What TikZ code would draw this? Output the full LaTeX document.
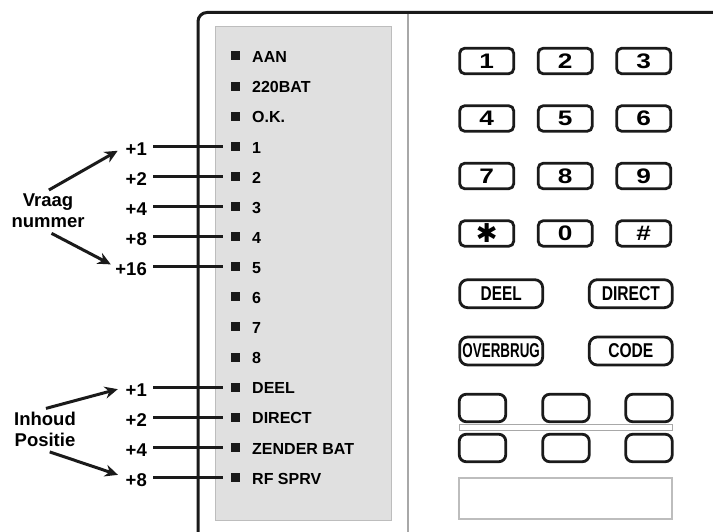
\documentclass[tikz,border=0pt]{standalone}
\usepackage{fontspec}
\setmainfont{Liberation Sans}
\newfontfamily\symfont{DejaVu Sans}
\usepackage{graphicx}
\usetikzlibrary{arrows.meta,positioning}
\definecolor{ink}{HTML}{1A1A1A}
\definecolor{panel}{HTML}{E0E0E0}
\definecolor{rim}{HTML}{BDBDBD}
\definecolor{gr}{HTML}{A8A8A8}
\newcommand{\keynum}[1]{\scalebox{1.25}[1]{\fontsize{21}{21}\selectfont\bfseries #1}}
\newcommand{\keytxt}[2]{\scalebox{#1}[1]{\fontsize{20}{20}\selectfont\bfseries #2}}

\begin{document}
\begin{tikzpicture}[x=1pt,y=-1pt,
  led/.style={fill=ink,inner sep=0pt,minimum size=9pt},
  ledtxt/.style={anchor=west,inner sep=0pt,font=\fontsize{16}{18}\selectfont\bfseries,
    text height=13.5pt,text depth=0pt},
  plus/.style={anchor=east,inner sep=0pt,font=\fontsize{18.5}{20}\selectfont\bfseries,
    text height=18.2pt,text depth=0pt},
  note/.style={align=center,font=\fontsize{18.5}{21}\selectfont\bfseries},
  wire/.style={ink,line width=2.8pt,shorten <=6pt,shorten >=8pt},
  ptr/.style={ink,line width=3pt,-{Stealth[length=13pt,width=12pt]}},
  key/.style={draw=ink,line width=2.8pt,rounded corners=5pt,minimum width=54pt,
    minimum height=25.5pt,inner sep=0pt},
  fkey/.style={key,rounded corners=8pt,minimum width=83pt,minimum height=28pt},
  bkey/.style={key,rounded corners=7pt,minimum width=46.5pt,minimum height=27.5pt}]
  \useasboundingbox (0,0) rectangle (713,532);
  % housing and led panel
  \draw[ink,line width=3pt,rounded corners=9pt] (198,532) -- (198,12.5) -- (713,12.5);
  \draw[rim,fill=panel,line width=0.8pt] (215.5,26.5) rectangle (391.5,520.5);
  \draw[gr,line width=1.2pt] (408,14) -- (408,532);
  \foreach \n/\lbl in {0/AAN,1/220BAT,2/O.K.,3/1,4/2,5/3,6/4,7/5,8/6,9/7,10/8,
      11/DEEL,12/DIRECT,13/ZENDER BAT,14/RF SPRV} {
    \node[led] (led\n) at (235.5,{56+\n*30.1}) {};
    \node[ledtxt] (txt\n) at (252,{56+\n*30.1}) {\lbl};
  }
  % weights, question number
  \foreach \n/\v in {3/1,4/2,5/4,6/8,7/16} {
    \node[plus] (vq\v) at (147,{56+\n*30.1}) {+\v};
    \draw[wire] (vq\v.east) -- (led\n.west);
  }
  % weights, content position
  \foreach \n/\v in {11/1,12/2,13/4,14/8} {
    \node[plus] (iq\v) at (147,{56+\n*30.1}) {+\v};
    \draw[wire] (iq\v.east) -- (led\n.west);
  }
  \node[note] (vraag) at (48,211) {Vraag\\nummer};
  \node[note] (inhoud) at (45,429.5) {Inhoud\\Positie};
  \draw[ptr,shorten <=1pt,shorten >=9pt] (vraag.north) -- (vq1.west);
  \draw[ptr,shorten <=4pt,shorten >=5pt] (vraag.south) -- (vq16.west);
  \draw[ptr,shorten <=1pt,shorten >=8pt] (inhoud.north) -- (iq1.west);
  \draw[ptr,shorten <=5pt,shorten >=8pt] (inhoud.south) -- (iq8.west);
  % keypad
  \foreach \lbl [count=\i from 0] in {1,2,3,4,5,6,7,8,9} {
    \pgfmathtruncatemacro\col{mod(\i,3)}
    \pgfmathtruncatemacro\row{div(\i,3)}
    \node[key] (k\lbl) at ({486.7+\col*78.5},{61+\row*57.5}) {\keynum{\lbl}};
  }
  \node[key] (kstar) at (486.7,233.5) {{\symfont\fontsize{26}{26}\selectfont ✱}};
  \node[key] (k0) at (565.2,233.5) {\keynum{0}};
  \node[key] (khash) at (643.7,233.5) {\keynum{\#}};
  \node[fkey] (kdeel) at (501.2,293.7) {\keytxt{0.77}{DEEL}};
  \node[fkey] (kdirect) at (630.8,293.7) {\keytxt{0.78}{DIRECT}};
  \node[fkey] (kover) at (501.2,351) {\keytxt{0.67}{OVERBRUG}};
  \node[fkey] (kcode) at (630.8,351) {\keytxt{0.78}{CODE}};
  % blank keys, label strip and window
  \foreach \x [count=\c] in {482.5,566,649} {
    \node[bkey] (bt\c) at (\x,408) {};
    \node[bkey] (bb\c) at (\x,448) {};
  }
  \draw[gr,line width=1pt] (459,424) rectangle (672,430);
  \draw[rim,line width=1.2pt] (459,478) rectangle (672,519);
\end{tikzpicture}
\end{document}
